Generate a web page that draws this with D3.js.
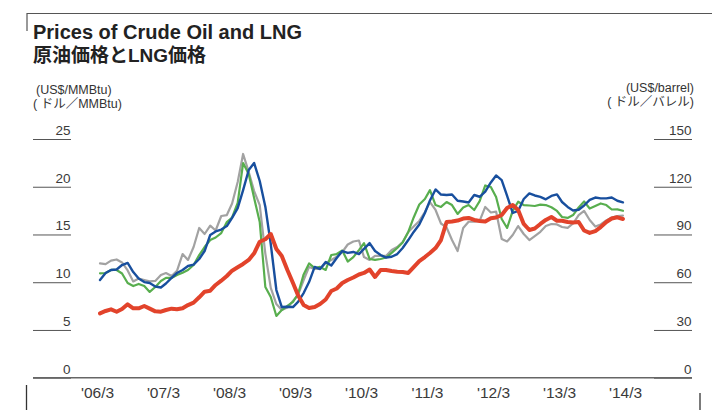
<!DOCTYPE html>
<html>
<head>
<meta charset="utf-8">
<script src="https://cdn.jsdelivr.net/npm/d3@7"></script>
<style>
  html, body { margin: 0; padding: 0; background: #fff; }
  svg { display: block; }
  text { font-family: "Liberation Sans", Arial, "Noto Sans CJK JP", sans-serif; }
</style>
</head>
<body>
<svg id="chart" width="712" height="410"></svg>
<script>
// ---- data (monthly, 2006/3 – 2014/2) ----
const startMonth = new Date(2006, 2, 1);
const endMonth = new Date(2014, 2, 1);
const months = d3.timeMonth.range(startMonth, endMonth);

const xTickLabels = ["'06/3","'07/3","'08/3","'09/3","'10/3","'11/3","'12/3","'13/3","'14/3"];
const leftTicks = [0, 5, 10, 15, 20, 25];
const rightTicks = [0, 30, 60, 90, 120, 150];

// crude oil, US$/barrel (right axis)
const crudeGray = [71.8,71.4,73.6,74.3,72.4,67.4,60.5,62.3,61.4,60.5,60.8,64.5,65.8,63.9,67.1,77.7,74.0,82.1,94.1,90.3,95.6,92.5,101.6,102.2,109.5,123.0,140.6,129.3,117.3,108.5,78.0,56.4,46.3,42.5,44.1,48.2,52.0,61.4,69.6,68.3,68.3,72.1,74.0,76.0,79.0,83.7,85.6,86.2,75.8,74.0,76.5,76.5,76.5,80.2,82.1,85.3,91.6,95.0,98.5,104.1,110.4,105.4,96.9,94.4,86.5,79.6,94.1,98.0,98.0,98.5,107.3,103.8,104.4,87.2,85.6,89.7,95.3,90.3,86.5,89.0,91.7,95.3,96.6,96.3,94.7,94.1,96.9,102.2,104.8,99.1,95.0,96.3,98.8,100.7,101.6,101.9];
const crudeGreen = [65.6,65.8,67.7,67.7,65.5,59.5,57.6,58.9,57.6,53.9,57.0,60.8,62.7,62.7,64.5,66.0,67.7,70.8,77.1,82.1,86.5,88.1,90.9,97.8,100.7,109.8,134.9,128.0,112.9,97.8,57.0,50.7,38.8,42.5,45.1,47.6,52.6,64.9,71.8,68.9,69.6,67.7,77.1,77.7,79.9,73.0,75.8,80.2,84.6,74.6,74.0,74.6,75.5,78.4,81.5,85.0,91.6,100.7,108.8,112.3,117.9,108.5,107.3,110.4,108.5,102.9,107.0,108.5,105.4,111.0,120.8,119.8,113.6,99.7,94.1,104.8,110.6,108.5,108.2,107.9,108.8,108.5,107.1,104.8,101.0,100.4,102.2,107.0,110.7,106.3,107.9,109.5,108.5,105.7,105.8,104.9];
const crudeBlue = [61.4,65.8,67.7,68.0,70.8,72.1,66.4,62.3,60.1,59.5,57.3,56.7,59.2,62.7,65.8,67.7,70.2,71.1,74.6,79.6,89.7,91.9,93.1,95.3,100.4,106.6,117.9,130.5,134.9,123.6,107.5,84.0,55.1,44.4,44.6,44.4,47.6,53.2,60.1,69.6,68.3,72.7,70.5,75.2,79.6,78.4,79.0,77.7,80.9,84.6,79.6,77.1,75.5,76.0,77.7,81.5,86.5,91.6,96.3,103.5,111.4,118.3,115.1,114.8,115.1,111.2,110.7,110.1,114.8,113.7,116.9,122.7,127.1,124.2,114.2,103.5,104.8,112.3,115.8,114.5,113.6,112.1,114.2,115.2,110.4,107.3,105.1,105.5,108.2,111.7,113.2,112.7,112.7,113.2,111.2,110.2];
// LNG, US$/MMBtu (left axis)
const lngRed = [6.74,6.99,7.16,6.91,7.20,7.69,7.27,7.27,7.51,7.23,6.95,6.91,7.09,7.23,7.16,7.27,7.61,7.86,8.42,9.01,9.11,9.71,10.16,10.65,11.21,11.56,11.91,12.33,13.03,14.24,14.50,15.05,13.48,12.75,11.28,9.92,8.63,7.61,7.30,7.40,7.72,8.19,9.08,9.34,9.92,10.23,10.49,10.81,10.97,11.33,10.55,11.28,11.28,11.18,11.10,11.07,10.97,11.59,12.22,12.64,13.06,13.58,14.42,16.31,16.36,16.46,16.67,16.73,16.52,16.41,16.36,16.69,16.78,17.04,17.77,18.09,17.56,16.10,15.47,15.63,16.10,16.52,16.83,16.44,16.44,16.31,16.25,16.31,15.42,15.16,15.36,15.78,16.31,16.67,16.80,16.62];

// ---- layout ----
const svg = d3.select("#chart");
const plotTop = 139, plotBottom = 377.7;
const x = d3.scaleTime().domain([startMonth, endMonth]).range([100, 628]);
const yL = d3.scaleLinear().domain([0, 25]).range([plotBottom, plotTop]);
const yR = d3.scaleLinear().domain([0, 150]).range([plotBottom, plotTop]);

// frame marks
svg.append("line").attr("x1", 27).attr("x2", 712).attr("y1", 13.5).attr("y2", 13.5).attr("stroke", "#555").attr("stroke-width", 1);
svg.append("line").attr("x1", 27).attr("x2", 27).attr("y1", 13).attr("y2", 31).attr("stroke", "#555").attr("stroke-width", 1.2);
svg.append("line").attr("x1", 26.5).attr("x2", 26.5).attr("y1", 385).attr("y2", 410).attr("stroke", "#333").attr("stroke-width", 1.3);
svg.append("line").attr("x1", 700).attr("x2", 700).attr("y1", 393).attr("y2", 410).attr("stroke", "#333").attr("stroke-width", 1.3);

// titles
svg.append("text").attr("x", 33).attr("y", 39).attr("font-size", 20).attr("font-weight", "bold").attr("fill", "#222")
  .text("Prices of Crude Oil and LNG");
svg.append("text").attr("x", 33).attr("y", 62).attr("font-size", 19).attr("font-weight", "bold").attr("fill", "#222")
  .style("font-family", "'Liberation Sans', 'Noto Sans CJK JP', sans-serif")
  .text("原油価格とLNG価格");

// unit labels
const unitFont = 12.5;
svg.append("text").attr("x", 36).attr("y", 94).attr("font-size", unitFont).attr("fill", "#333").text("(US$/MMBtu)");
svg.append("text").attr("x", 33).attr("y", 108).attr("font-size", unitFont).attr("fill", "#333").text("( ドル／MMBtu)");
svg.append("text").attr("x", 694).attr("y", 92).attr("text-anchor", "end").attr("font-size", unitFont).attr("fill", "#333").text("(US$/barrel)");
svg.append("text").attr("x", 694).attr("y", 106).attr("text-anchor", "end").attr("font-size", unitFont).attr("fill", "#333").text("( ドル／バレル)");

// left axis
const leftAxis = svg.append("g").attr("transform", "translate(33,0)")
  .call(d3.axisRight(yL).tickValues(leftTicks).tickSize(38).tickFormat(d3.format("d")));
// right axis
const rightAxis = svg.append("g").attr("transform", "translate(654,0)")
  .call(d3.axisRight(yR).tickValues(rightTicks).tickSize(38).tickFormat(d3.format("d")));
[leftAxis, rightAxis].forEach(g => {
  g.select(".domain").remove();
  g.selectAll(".tick line").attr("stroke", "#555").attr("stroke-width", 1);
  g.selectAll(".tick text").attr("x", 37.5).attr("dy", -4.5).attr("text-anchor", "end")
    .attr("font-size", 13.5).attr("fill", "#3a3a3a").style("font-family", "'Liberation Sans', Arial, sans-serif");
});

// baseline
svg.append("line").attr("x1", 33).attr("x2", 692).attr("y1", plotBottom).attr("y2", plotBottom).attr("stroke", "#666").attr("stroke-width", 1.4);

// x axis labels (each March)
const xTicks = xTickLabels.map((_, i) => d3.timeMonth.offset(startMonth, 12 * i));
const xAxis = svg.append("g").attr("transform", `translate(0,${plotBottom})`)
  .call(d3.axisBottom(x).tickValues(xTicks).tickSize(0).tickFormat((d, i) => xTickLabels[i]));
xAxis.select(".domain").remove();
xAxis.selectAll(".tick text").attr("dy", 17).attr("dx", -3).attr("font-size", 15.5).attr("fill", "#3a3a3a")
  .style("font-family", "'Liberation Sans', Arial, sans-serif");

// lines
const lineR = d3.line().x((d, i) => x(months[i])).y(d => yR(d));
const lineL = d3.line().x((d, i) => x(months[i])).y(d => yL(d));
const series = [
  { data: crudeGray, gen: lineR, color: "#a2a2a2", w: 2.2 },
  { data: crudeGreen, gen: lineR, color: "#58ae4e", w: 2.2 },
  { data: crudeBlue, gen: lineR, color: "#184f9e", w: 2.4 },
  { data: lngRed, gen: lineL, color: "#e2432b", w: 4 }
];
series.forEach(s => {
  svg.append("path").datum(s.data).attr("d", s.gen).attr("fill", "none")
    .attr("stroke", s.color).attr("stroke-width", s.w).attr("stroke-linejoin", "round").attr("stroke-linecap", "round");
});
</script>
</body>
</html>
